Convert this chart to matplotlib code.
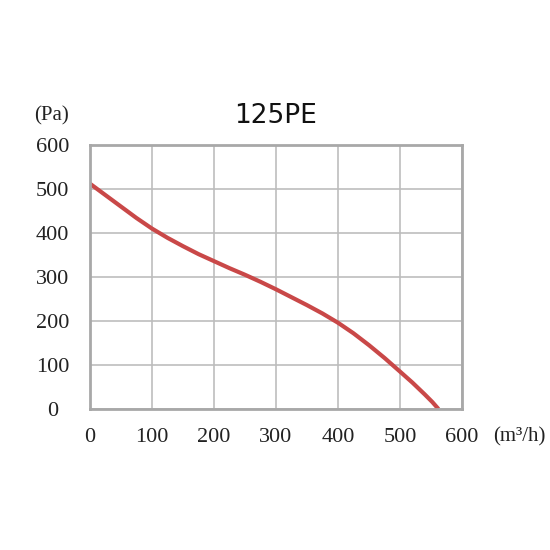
import matplotlib.pyplot as plt

# air flow (m3/h) vs static pressure (Pa)
flow = [0, 25, 50, 75, 100, 125, 150, 175, 200, 225, 250, 275, 300, 325,
        350, 375, 400, 425, 450, 475, 500, 520, 540, 552, 562]
pressure = [512, 486, 460, 434, 410, 389, 370, 352, 336, 320, 305, 289, 272, 254,
            236, 217, 196, 172, 145, 116, 85, 60, 33, 16, 0]

xticks = [0, 100, 200, 300, 400, 500, 600]
yticks = [0, 100, 200, 300, 400, 500, 600]

fig = plt.figure(figsize=(5.5, 5.5), dpi=100)
ax = fig.add_axes([0.1636, 0.2564, 0.6764, 0.48])

ax.plot(flow, pressure, color="#c94848", linewidth=3, solid_capstyle="butt")

ax.set_xlim(0, 600)
ax.set_ylim(0, 600)
ax.set_xticks(xticks)
ax.set_yticks(yticks)
ax.grid(color="#bdbdbd", linewidth=1.2)
ax.set_axisbelow(True)
for s in ax.spines.values():
    s.set_color("#a8a8a8")
    s.set_linewidth(2)
ax.tick_params(axis="x", length=0, pad=14)
ax.tick_params(axis="y", length=0, pad=27)
for lbl in ax.get_xticklabels() + ax.get_yticklabels():
    lbl.set_family("Liberation Serif")
    lbl.set_fontsize(16)
    lbl.set_color("#222222")
for lbl in ax.get_yticklabels():
    lbl.set_horizontalalignment("center")

ax.set_title("125PE", fontsize=19, family="DejaVu Sans", pad=16, color="#111111")
fig.text(0.093, 0.79, "(Pa)", fontsize=15, family="Liberation Serif", color="#222222",
         ha="center", va="center")
fig.text(0.945, 0.205, "(m³/h)", fontsize=15, family="Liberation Serif", color="#222222",
         ha="center", va="center")

fig.savefig("out.png", dpi=100)
